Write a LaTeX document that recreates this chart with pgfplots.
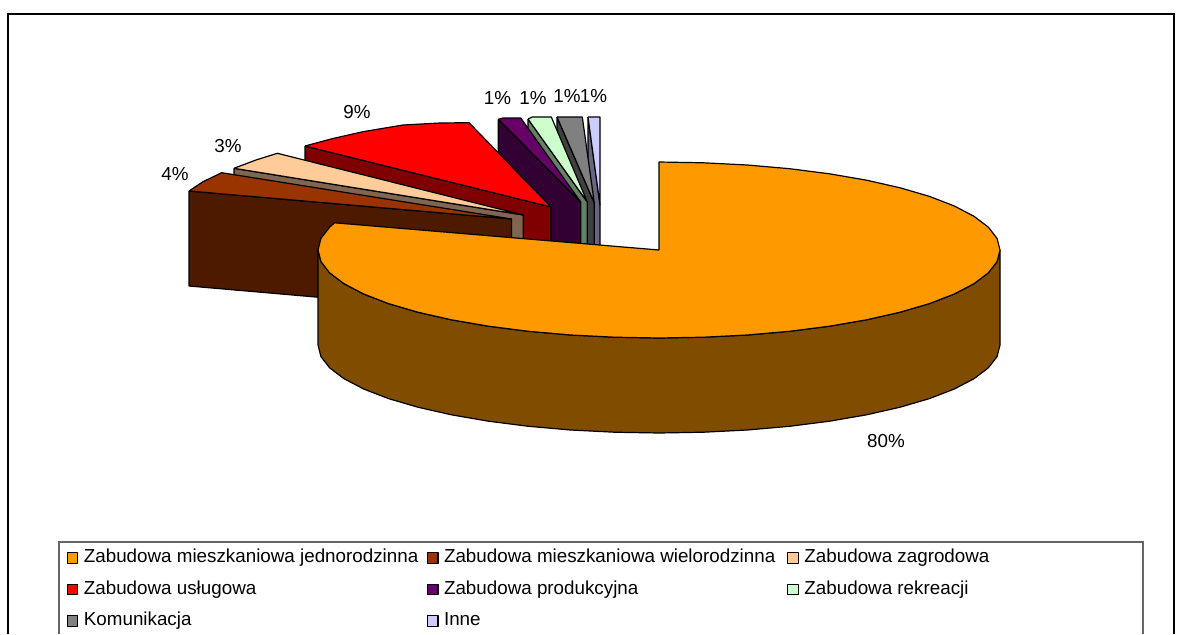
\documentclass[border=0pt]{standalone}
\usepackage{fontspec}
\setmainfont{Liberation Sans}
\usepackage{pgfplots}
\pgfplotsset{compat=1.18}
\definecolor{cMain}{HTML}{FF9900}\definecolor{sMain}{HTML}{804D00}
\definecolor{cWiel}{HTML}{993300}\definecolor{sWiel}{HTML}{4D1A00}
\definecolor{cZagr}{HTML}{FFCC99}\definecolor{sZagr}{HTML}{806650}
\definecolor{cUslu}{HTML}{FF0000}\definecolor{sUslu}{HTML}{800000}
\definecolor{cProd}{HTML}{660066}\definecolor{sProd}{HTML}{330033}
\definecolor{cRekr}{HTML}{CCFFCC}\definecolor{sRekr}{HTML}{668066}
\definecolor{cKomu}{HTML}{808080}\definecolor{sKomu}{HTML}{404040}
\definecolor{cInne}{HTML}{CCCCFF}\definecolor{sInne}{HTML}{666680}
\begin{document}
\begin{tikzpicture}
\begin{axis}[
  scale only axis, width=1184pt, height=634pt,
  xmin=0, xmax=1184, ymin=0, ymax=634, y dir=reverse,
  hide axis, clip=false,
  legend columns=3,
  legend cell align=left,
  legend image code/.code={\draw[#1] (0pt,-5.5pt) rectangle (10.5pt,5pt);},
  legend style={
    at={(axis cs:66.5,548.5)}, anchor=north west, draw=none, fill=none, inner sep=0pt,
    font=\fontsize{18.8pt}{20pt}\selectfont,
    nodes={inner sep=0pt, text height=14pt, text depth=4pt},
    row sep=13.5pt,
    /tikz/every odd column/.append style={column sep=5.5pt},
    /tikz/every even column/.append style={column sep=8.5pt},
  },
  every axis plot/.append style={line width=1.2pt, line join=round, mark=none, forget plot},
]
% frame and legend box
\path (axis cs:0,0) rectangle (axis cs:1184,634);
\draw[black, line width=1.1pt] (axis cs:8,634) -- (axis cs:8,14) -- (axis cs:1174,14) -- (axis cs:1174,634);
\draw[black!60, line width=1.2pt] (axis cs:59,634) -- (axis cs:59,542) -- (axis cs:1143,542) -- (axis cs:1143,634);

% Inne 1%
\addplot[draw=black, fill=sInne] coordinates {(588,117)(600,205)(600,300)(588,212)(588,117)};
\addplot[draw=black, fill=cInne] coordinates {(588,117)(600,117)(600,205)(588,117)};
% Komunikacja 1%
\addplot[draw=black, fill=sKomu] coordinates {(557,117)(594.3,203)(594.3,298)(557,212)(557,117)};
\addplot[draw=black, fill=cKomu] coordinates {(557,117)(582.3,117)(594.3,203)(557,117)};
% Rekreacja 1%
\addplot[draw=black, fill=sRekr] coordinates {(528,119)(587.3,202)(587.3,297)(528,214)(528,119)};
\addplot[draw=black, fill=cRekr] coordinates {(528,119)(532.3,117)(551.3,117)(587.3,202)(528,119)};
% Produkcyjna 1%
\addplot[draw=black, fill=sProd] coordinates {(498.3,119.3)(580.7,202)(580.7,297)(498.3,214.3)(498.3,119.3)};
\addplot[draw=black, fill=cProd] coordinates {(498.3,119.3)(503,118)(520.7,118)(580.7,202)(498.3,119.3)};
% Uslugowa 9%
\addplot[draw=black, fill=sUslu] coordinates {(305,146)(551,207)(551,302)(305,241)(305,146)};
\addplot[draw=black, fill=cUslu] coordinates {(305,146)(333,138.5)(363,131.7)(403,125)(440,123)(469,122.7)(551,207)(305,146)};
% Zagrodowa 3%
\addplot[draw=black, fill=sZagr] coordinates {(234,168.3)(523.3,215)(523.3,310)(234,263.3)(234,168.3)};
\addplot[draw=black, fill=cZagr] coordinates {(234,168.3)(256,160)(277.3,153.3)(523.3,215)(234,168.3)};
% Wielorodzinna 4%
\addplot[draw=black, fill=sWiel] coordinates {(189,191)(511.5,219)(511.5,314)(189,286)(189,191)};
\addplot[draw=black, fill=cWiel] coordinates {(189,191)(203,181.7)(221.7,172.7)(511.5,219)(189,191)};
% Jednorodzinna 80%
\addplot[draw=black, fill=sMain] coordinates {
 (1000,250)(997.1,261.5)(988.4,272.8)(974,283.7)(954.3,294)(929.5,303.6)(900.1,312.2)(866.6,319.8)(829.5,326.2)(789.5,331.3)(747.3,335)(703.5,337.2)(659,338)
 (614.5,337.2)(570.7,335)(528.5,331.3)(488.5,326.2)(451.4,319.8)(417.9,312.2)(388.5,303.6)(363.7,294)(344,283.7)(329.6,272.8)(320.9,261.5)(318,250)
 (318,345)(320.9,356.5)(329.6,367.8)(344,378.7)(363.7,389)(388.5,398.6)(417.9,407.2)(451.4,414.8)(488.5,421.2)(528.5,426.3)(570.7,430)(614.5,432.2)(659,433)
 (703.5,432.2)(747.3,430)(789.5,426.3)(829.5,421.2)(866.6,414.8)(900.1,407.2)(929.5,398.6)(954.3,389)(974,378.7)(988.4,367.8)(997.1,356.5)(1000,345)(1000,250)};
\addplot[draw=black, fill=cMain] coordinates {
 (659,250)(659,162)(703.5,162.8)(747.3,165)(789.5,168.7)(829.5,173.8)(866.6,180.2)(900.1,187.8)
 (929.5,196.4)(954.3,206)(974,216.3)(988.4,227.2)(997.1,238.5)(1000,250)(997.1,261.5)(988.4,272.8)
 (974,283.7)(954.3,294)(929.5,303.6)(900.1,312.2)(866.6,319.8)(829.5,326.2)(789.5,331.3)(747.3,335)
 (703.5,337.2)(659,338)(614.5,337.2)(570.7,335)(528.5,331.3)(488.5,326.2)(451.4,319.8)(417.9,312.2)
 (388.5,303.6)(363.7,294)(344,283.7)(329.6,272.8)(320.9,261.5)(318,250)(320.9,238.5)(329.6,227.2)
 (334.6,222.8)(659,250)};

% data labels
\begin{scope}[every node/.style={font=\fontsize{18.8pt}{20pt}\selectfont, inner sep=0pt}]
\node at (axis cs:886,441) {80\%};
\node at (axis cs:175,174) {4\%};
\node at (axis cs:228,146) {3\%};
\node at (axis cs:357,112) {9\%};
\node at (axis cs:497.5,98) {1\%};
\node at (axis cs:533,98) {1\%};
\node at (axis cs:567,96.5) {1\%};
\node at (axis cs:593.5,96.5) {1\%};
\end{scope}

% legend
\addlegendimage{draw=black, line width=1.2pt, fill=cMain}
\addlegendimage{draw=black, line width=1.2pt, fill=cWiel}
\addlegendimage{draw=black, line width=1.2pt, fill=cZagr}
\addlegendimage{draw=black, line width=1.2pt, fill=cUslu}
\addlegendimage{draw=black, line width=1.2pt, fill=cProd}
\addlegendimage{draw=black, line width=1.2pt, fill=cRekr}
\addlegendimage{draw=black, line width=1.2pt, fill=cKomu}
\addlegendimage{draw=black, line width=1.2pt, fill=cInne}
\legend{Zabudowa mieszkaniowa jednorodzinna, Zabudowa mieszkaniowa wielorodzinna\hspace*{3.5pt}, Zabudowa zagrodowa, Zabudowa usługowa, Zabudowa produkcyjna, Zabudowa rekreacji, Komunikacja, Inne}
\end{axis}
\end{tikzpicture}
\end{document}
